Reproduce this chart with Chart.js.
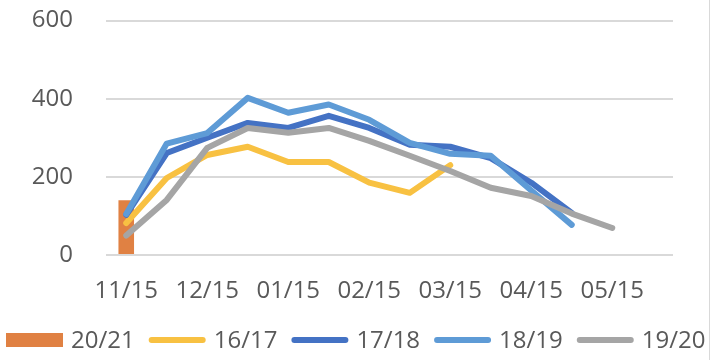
<!DOCTYPE html>
<html>
<head>
<meta charset="utf-8">
<script src="https://cdn.jsdelivr.net/npm/chart.js@4"></script>
<style>
  html, body { margin: 0; padding: 0; background: #fff; }
  #wrap { width: 712px; height: 360px; }
</style>
</head>
<body>
<div id="wrap"><canvas id="chart" width="712" height="360"></canvas></div>
<script>
// half-month steps, only every second one gets a label
const categories = ["11/15", "12/01", "12/15", "01/01", "01/15", "02/01", "02/15",
  "03/01", "03/15", "04/01", "04/15", "05/01", "05/15", "06/01"];
const yTicks = [0, 200, 400, 600];

const s2021 = [140, null, null, null, null, null, null, null, null, null, null, null, null, null];
const s1617 = [82, 197, 256, 277, 238, 238, 185, 159, 230, null, null, null, null, null];
const s1718 = [103, 261, 300, 338, 325, 356, 325, 282, 277, 248, 185, 108, null, null];
const s1819 = [105, 285, 312, 402, 364, 385, 346, 287, 259, 254, 165, 77, null, null];
const s1920 = [50, 141, 274, 325, 313, 325, 292, 254, 215, 172, 151, 106, 69, null];

const FONT = "'Open Sans', 'Liberation Sans', sans-serif";
const TEXT = "#595959";

function lineSet(label, data, color, order) {
  return {
    type: "line",
    label: label,
    data: data,
    borderColor: color,
    backgroundColor: color,
    borderWidth: 6,
    borderCapStyle: "round",
    borderJoinStyle: "round",
    tension: 0,
    pointRadius: 0,
    pointHoverRadius: 0,
    spanGaps: false,
    order: order,
  };
}

// legend drawn by hand so the swatch/text gaps match the original
const bottomLegend = {
  id: "bottomLegend",
  afterDraw(chart) {
    const ctx = chart.ctx;
    const y = 340;
    let x = 6;
    ctx.save();
    ctx.font = "24px " + FONT;
    ctx.textBaseline = "middle";
    ctx.textAlign = "left";
    chart.data.datasets.forEach((ds) => {
      if (ds.type === "bar") {
        ctx.fillStyle = ds.backgroundColor;
        ctx.fillRect(x, y - 7, 57, 14);
      } else {
        ctx.strokeStyle = ds.borderColor;
        ctx.lineWidth = 6;
        ctx.lineCap = "round";
        ctx.beginPath();
        ctx.moveTo(x + 3, y);
        ctx.lineTo(x + 54, y);
        ctx.stroke();
      }
      ctx.fillStyle = TEXT;
      ctx.fillText(ds.label, x + 65, y + 1);
      x += 65 + ctx.measureText(ds.label).width + 14;
    });
    // thin frame edge on the right, as in the original
    ctx.strokeStyle = "#D9D9D9";
    ctx.lineWidth = 1;
    ctx.beginPath();
    ctx.moveTo(709.5, 0);
    ctx.lineTo(709.5, 360);
    ctx.stroke();
    ctx.restore();
  },
};

new Chart(document.getElementById("chart"), {
  data: {
    labels: categories,
    datasets: [
      {
        type: "bar",
        label: "20/21",
        data: s2021,
        backgroundColor: "#E08143",
        barPercentage: 0.385,
        categoryPercentage: 1,
        order: 9,
      },
      lineSet("16/17", s1617, "#F8C142", 4),
      lineSet("17/18", s1718, "#4472C4", 3),
      lineSet("18/19", s1819, "#5E9BD6", 2),
      lineSet("19/20", s1920, "#A5A5A5", 1),
    ],
  },
  options: {
    responsive: false,
    animation: false,
    layout: { padding: { left: 0, right: 39, top: 20.5, bottom: 0 } },
    plugins: {
      legend: { display: false },
      tooltip: { enabled: false },
    },
    scales: {
      x: {
        offset: true,
        grid: { display: false, drawTicks: false },
        border: { display: false },
        ticks: {
          autoSkip: false,
          maxRotation: 0,
          padding: 22,
          color: TEXT,
          font: { family: FONT, size: 24 },
          callback: (v, i) => (i % 2 ? "" : categories[i]),
        },
        afterFit: (axis) => {
          axis.height = 105;
        },
      },
      y: {
        min: 0,
        max: 600,
        grid: { color: "#D9D9D9", lineWidth: 2, drawTicks: false },
        border: { display: false },
        afterBuildTicks: (axis) => {
          axis.ticks = yTicks.map((v) => ({ value: v }));
        },
        ticks: {
          padding: 33,
          color: TEXT,
          font: { family: FONT, size: 24 },
        },
        afterFit: (axis) => {
          axis.width = 106;
          // tick padding would otherwise push the plot top down
          axis.paddingTop = 0;
          axis.paddingBottom = 0;
        },
      },
    },
  },
  plugins: [bottomLegend],
});
</script>
</body>
</html>
